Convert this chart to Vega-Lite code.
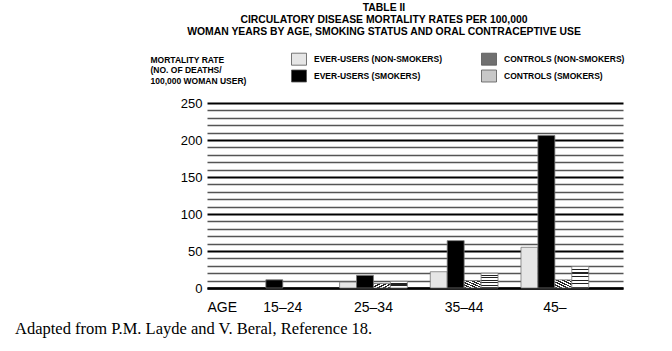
{
  "$schema": "https://vega.github.io/schema/vega-lite/v6.json",
  "background": "white",
  "padding": {"left": 15, "top": 2, "right": 0, "bottom": 5},
  "title": {"text": "Adapted from P.M. Layde and V. Beral, Reference 18.", "orient": "bottom", "anchor": "start", "frame": "bounds", "font": "Liberation Serif", "fontSize": 16.5, "fontWeight": "normal", "color": "black", "dx": -135, "offset": 7},
  "config": {"view": {"stroke": null}, "concat": {"spacing": 0}},
  "vconcat": [
    {
      "width": 416,
      "height": 185,
      "title": {"text": ["TABLE II", "CIRCULATORY DISEASE MORTALITY RATES PER 100,000", "WOMAN YEARS BY AGE, SMOKING STATUS AND ORAL CONTRACEPTIVE USE"], "font": "Liberation Sans", "fontSize": 10.4, "fontWeight": "bold", "lineHeight": 12, "anchor": "middle", "frame": "group", "dx": -31, "offset": 18, "color": "black"},
      "data": {"values": [
        {"age": "15–24", "group": "EVER-USERS (SMOKERS)", "rate": 11},
        {"age": "25–34", "group": "EVER-USERS (NON-SMOKERS)", "rate": 8},
        {"age": "25–34", "group": "EVER-USERS (SMOKERS)", "rate": 17},
        {"age": "25–34", "group": "CONTROLS (NON-SMOKERS)", "rate": 6},
        {"age": "25–34", "group": "CONTROLS (SMOKERS)", "rate": 9},
        {"age": "35–44", "group": "EVER-USERS (NON-SMOKERS)", "rate": 22},
        {"age": "35–44", "group": "EVER-USERS (SMOKERS)", "rate": 64},
        {"age": "35–44", "group": "CONTROLS (NON-SMOKERS)", "rate": 10},
        {"age": "35–44", "group": "CONTROLS (SMOKERS)", "rate": 20},
        {"age": "45–", "group": "EVER-USERS (NON-SMOKERS)", "rate": 55},
        {"age": "45–", "group": "EVER-USERS (SMOKERS)", "rate": 206},
        {"age": "45–", "group": "CONTROLS (NON-SMOKERS)", "rate": 11},
        {"age": "45–", "group": "CONTROLS (SMOKERS)", "rate": 29}
      ]},
      "mark": {"type": "bar", "stroke": "#777777", "strokeWidth": 0.8},
      "encoding": {
        "x": {
          "field": "age", "type": "nominal", "sort": null,
          "scale": {"domain": ["15–24", "25–34", "35–44", "45–"], "paddingInner": 0.253, "paddingOuter": 0.42, "align": 0.55},
          "axis": {
            "title": "AGE", "titleX": 0, "titleY": 12, "titleAlign": "left", "titleBaseline": "top", "titleAnchor": "start",
            "titleFont": "Liberation Sans", "titleFontSize": 14, "titleFontWeight": "normal", "titleColor": "black",
            "labelAngle": 0, "labelFont": "Liberation Sans", "labelFontSize": 14, "labelColor": "black", "labelPadding": 12, "labelBaseline": "top",
            "ticks": false, "domain": true, "domainColor": "black", "domainWidth": 2.5, "grid": false
          }
        },
        "xOffset": {
          "field": "group", "type": "nominal",
          "scale": {"domain": ["EVER-USERS (NON-SMOKERS)", "EVER-USERS (SMOKERS)", "CONTROLS (NON-SMOKERS)", "CONTROLS (SMOKERS)"], "paddingInner": 0, "paddingOuter": 0}
        },
        "y": {
          "field": "rate", "type": "quantitative",
          "scale": {"domain": [0, 250], "nice": false},
          "axis": {
            "title": ["MORTALITY RATE", "(NO. OF DEATHS/", "100,000 WOMAN USER)"],
            "titleAngle": 0, "titleX": -57, "titleY": -48, "titleAlign": "left", "titleBaseline": "top", "titleAnchor": "start",
            "titleFont": "Liberation Sans", "titleFontSize": 8.5, "titleFontWeight": "bold", "titleLineHeight": 10.5, "titleColor": "black",
            "values": [0, 10, 20, 30, 40, 50, 60, 70, 80, 90, 100, 110, 120, 130, 140, 150, 160, 170, 180, 190, 200, 210, 220, 230, 240, 250],
            "labelExpr": "datum.value % 50 === 0 ? datum.label : ''",
            "labelFont": "Liberation Sans", "labelFontSize": 13, "labelColor": "black", "labelPadding": 5, "labelOverlap": false,
            "ticks": false, "domain": false, "grid": true,
            "gridColor": {"condition": {"test": "datum.value % 50 === 0", "value": "#000000"}, "value": "#555555"},
            "gridWidth": {"condition": {"test": "datum.value % 50 === 0", "value": 2}, "value": 1.3}
          }
        },
        "color": {
          "field": "group", "type": "nominal",
          "condition": [
            {"test": "datum.group === 'CONTROLS (NON-SMOKERS)'", "value": {"gradient": "linear", "x1": 0, "y1": 1, "x2": 1, "y2": 0, "stops": [
                {"offset": 0, "color": "#222222"}, {"offset": 0.083, "color": "#222222"}, {"offset": 0.083, "color": "#ffffff"}, {"offset": 0.167, "color": "#ffffff"},
                {"offset": 0.167, "color": "#222222"}, {"offset": 0.25, "color": "#222222"}, {"offset": 0.25, "color": "#ffffff"}, {"offset": 0.333, "color": "#ffffff"},
                {"offset": 0.333, "color": "#222222"}, {"offset": 0.417, "color": "#222222"}, {"offset": 0.417, "color": "#ffffff"}, {"offset": 0.5, "color": "#ffffff"},
                {"offset": 0.5, "color": "#222222"}, {"offset": 0.583, "color": "#222222"}, {"offset": 0.583, "color": "#ffffff"}, {"offset": 0.667, "color": "#ffffff"},
                {"offset": 0.667, "color": "#222222"}, {"offset": 0.75, "color": "#222222"}, {"offset": 0.75, "color": "#ffffff"}, {"offset": 0.833, "color": "#ffffff"},
                {"offset": 0.833, "color": "#222222"}, {"offset": 0.917, "color": "#222222"}, {"offset": 0.917, "color": "#ffffff"}, {"offset": 1, "color": "#ffffff"}
              ]}},
            {"test": "datum.group === 'CONTROLS (SMOKERS)'", "value": {"gradient": "linear", "x1": 0, "y1": 0, "x2": 0, "y2": 1, "stops": [
                {"offset": 0, "color": "#ffffff"}, {"offset": 0.108, "color": "#ffffff"}, {"offset": 0.108, "color": "#222222"}, {"offset": 0.167, "color": "#222222"},
                {"offset": 0.167, "color": "#ffffff"}, {"offset": 0.275, "color": "#ffffff"}, {"offset": 0.275, "color": "#222222"}, {"offset": 0.333, "color": "#222222"},
                {"offset": 0.333, "color": "#ffffff"}, {"offset": 0.442, "color": "#ffffff"}, {"offset": 0.442, "color": "#222222"}, {"offset": 0.5, "color": "#222222"},
                {"offset": 0.5, "color": "#ffffff"}, {"offset": 0.608, "color": "#ffffff"}, {"offset": 0.608, "color": "#222222"}, {"offset": 0.667, "color": "#222222"},
                {"offset": 0.667, "color": "#ffffff"}, {"offset": 0.775, "color": "#ffffff"}, {"offset": 0.775, "color": "#222222"}, {"offset": 0.833, "color": "#222222"},
                {"offset": 0.833, "color": "#ffffff"}, {"offset": 0.942, "color": "#ffffff"}, {"offset": 0.942, "color": "#222222"}, {"offset": 1, "color": "#222222"}
              ]}}
          ],
          "scale": {
            "domain": ["EVER-USERS (NON-SMOKERS)", "EVER-USERS (SMOKERS)", "CONTROLS (NON-SMOKERS)", "CONTROLS (SMOKERS)"],
            "range": ["#e6e6e6", "#000000", "#707070", "#c8c8c8"]
          },
          "legend": {
            "title": null, "orient": "none", "legendX": 84, "legendY": -52, "columns": 2, "columnPadding": 37, "rowPadding": 1,
            "symbolType": "M-1,-0.8H1V0.8H-1Z", "symbolSize": 225, "symbolStrokeColor": "#555555", "symbolStrokeWidth": 0.8,
            "labelFont": "Liberation Sans", "labelFontSize": 8.5, "labelFontWeight": "bold", "labelColor": "black", "labelOffset": 7, "labelLimit": 300
          }
        }
      }
    }
  ]
}
